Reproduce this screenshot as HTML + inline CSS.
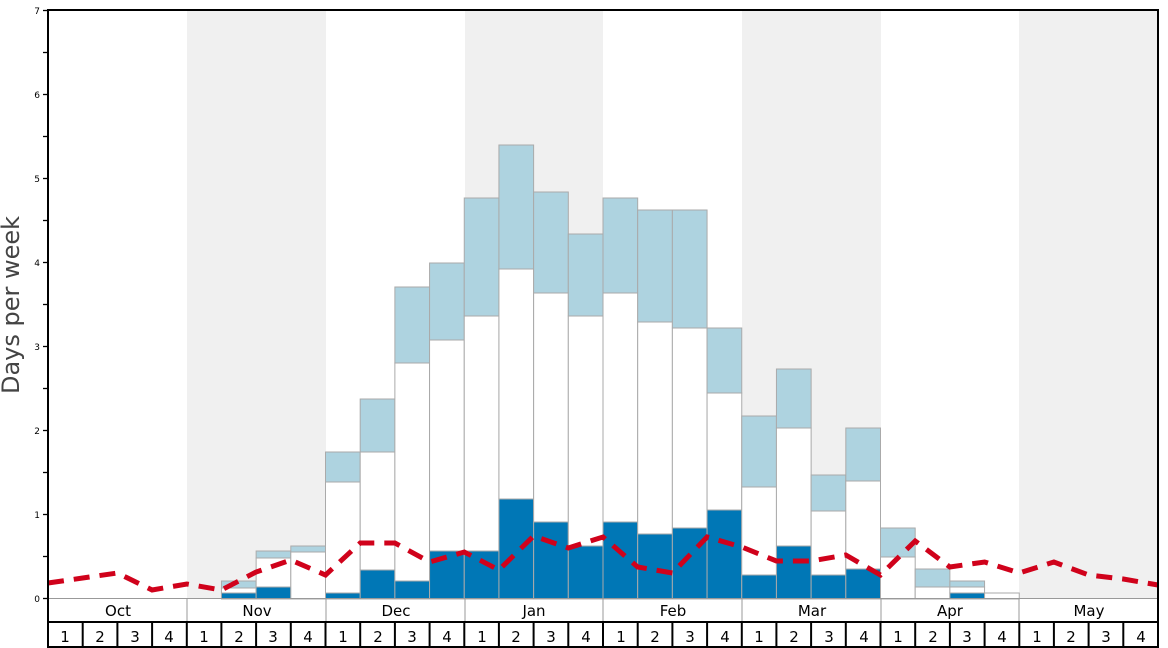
<!DOCTYPE html>
<html><head><meta charset="utf-8"><style>html,body{margin:0;padding:0;background:#fff}svg{display:block}text{font-family:"DejaVu Sans","Liberation Sans",sans-serif}</style></head><body>
<svg id="s" width="1168" height="648" xmlns="http://www.w3.org/2000/svg">
<rect x="187" y="10" width="139" height="589" fill="#f0f0f0"/>
<rect x="465" y="10" width="138" height="589" fill="#f0f0f0"/>
<rect x="742" y="10" width="139" height="589" fill="#f0f0f0"/>
<rect x="1019" y="10" width="139" height="589" fill="#f0f0f0"/>
<g id="bars"></g>
<polyline id="line" fill="none" stroke="#d0021b" stroke-width="5" stroke-dasharray="16,10"/>
<g stroke="#000" stroke-width="1.3">
<line x1="43" y1="10.5" x2="48" y2="10.5"/><line x1="43" y1="94.5" x2="48" y2="94.5"/><line x1="43" y1="178.5" x2="48" y2="178.5"/><line x1="43" y1="262.5" x2="48" y2="262.5"/><line x1="43" y1="346.5" x2="48" y2="346.5"/><line x1="43" y1="430.5" x2="48" y2="430.5"/><line x1="43" y1="514.5" x2="48" y2="514.5"/><line x1="43" y1="598.5" x2="48" y2="598.5"/>
<line x1="43" y1="52.5" x2="48" y2="52.5"/><line x1="43" y1="136.5" x2="48" y2="136.5"/><line x1="43" y1="220.5" x2="48" y2="220.5"/><line x1="43" y1="304.5" x2="48" y2="304.5"/><line x1="43" y1="388.5" x2="48" y2="388.5"/><line x1="43" y1="472.5" x2="48" y2="472.5"/><line x1="43" y1="556.5" x2="48" y2="556.5"/>
</g>
<g font-size="9" text-anchor="end" fill="#000">
<text x="40" y="14">7</text><text x="40" y="98">6</text><text x="40" y="182">5</text><text x="40" y="266">4</text><text x="40" y="350">3</text><text x="40" y="434">2</text><text x="40" y="518">1</text><text x="40" y="602">0</text>
</g>
<text transform="translate(19,305) rotate(-90)" font-size="24" fill="#444" text-anchor="middle">Days per week</text>
<line x1="48" y1="598.5" x2="1158" y2="598.5" stroke="#999" stroke-width="1"/>
<g stroke="#999" stroke-width="1">
<line x1="187" y1="599" x2="187" y2="622"/><line x1="326" y1="599" x2="326" y2="622"/><line x1="465" y1="599" x2="465" y2="622"/><line x1="603" y1="599" x2="603" y2="622"/><line x1="742" y1="599" x2="742" y2="622"/><line x1="881" y1="599" x2="881" y2="622"/><line x1="1019" y1="599" x2="1019" y2="622"/>
</g>
<g id="wk" stroke="#000" stroke-width="2"></g>
<rect x="48" y="10" width="1110" height="637" fill="none" stroke="#000" stroke-width="2"/>
<line x1="48" y1="622" x2="1158" y2="622" stroke="#000" stroke-width="2"/>
<g font-size="15" text-anchor="middle" fill="#000">
<text x="118" y="616">Oct</text><text x="257" y="616">Nov</text><text x="396" y="616">Dec</text><text x="534" y="616">Jan</text><text x="673" y="616">Feb</text><text x="812" y="616">Mar</text><text x="950" y="616">Apr</text><text x="1089" y="616">May</text>
</g>
<g font-size="15" text-anchor="middle" fill="#000">
<text x="65" y="642">1</text><text x="100" y="642">2</text><text x="135" y="642">3</text><text x="169" y="642">4</text>
<text x="204" y="642">1</text><text x="239" y="642">2</text><text x="273" y="642">3</text><text x="308" y="642">4</text>
<text x="343" y="642">1</text><text x="378" y="642">2</text><text x="412" y="642">3</text><text x="447" y="642">4</text>
<text x="482" y="642">1</text><text x="516" y="642">2</text><text x="551" y="642">3</text><text x="586" y="642">4</text>
<text x="621" y="642">1</text><text x="655" y="642">2</text><text x="690" y="642">3</text><text x="725" y="642">4</text>
<text x="759" y="642">1</text><text x="794" y="642">2</text><text x="829" y="642">3</text><text x="864" y="642">4</text>
<text x="898" y="642">1</text><text x="933" y="642">2</text><text x="967" y="642">3</text><text x="1002" y="642">4</text>
<text x="1037" y="642">1</text><text x="1071" y="642">2</text><text x="1106" y="642">3</text><text x="1141" y="642">4</text>
</g>
<script>
var W=1110/32,ns="http://www.w3.org/2000/svg";
function X(w){return 48+w*W}
var d=[[5,581,588,593],[6,551,558,587],[7,546,552,599],[8,452,482,593],[9,399,452,570],[10,287,363,581],[11,263,340,551],[12,198,316,551],[13,145,269,499],[14,192,293,522],[15,234,316,546],[16,198,293,522],[17,210,322,534],[18,210,328,528],[19,328,393,510],[20,416,487,575],[21,369,428,546],[22,475,511,575],[23,428,481,569],[24,528,557,599],[25,569,587,599],[26,581,587,593],[27,593,593,599]];
var g=document.getElementById('bars');
function R(x,y,w,h,f){if(h<=0)return;var r=document.createElementNS(ns,'rect');r.setAttribute('x',x);r.setAttribute('y',y);r.setAttribute('width',w);r.setAttribute('height',h);r.setAttribute('fill',f);r.setAttribute('stroke','#aaa');r.setAttribute('stroke-width','1');g.appendChild(r);}
d.forEach(function(b){var x=X(b[0]),w=W;R(x,b[1],w,b[2]-b[1],'#aed3e0');R(x,b[2],w,b[3]-b[2],'#fff');R(x,b[3],w,599-b[3],'#0077b6');});
var ly=[583,578,573,590,584,590,572,560,575,543,543,562,552,570,536,548,537,567,573,537,547,561,561,555,575,541,567,562,573,562,575,579,585];
document.getElementById('line').setAttribute('points',ly.map(function(y,i){return X(i).toFixed(1)+','+y}).join(' '));
var k=document.getElementById('wk');
for(var i=1;i<32;i++){var l=document.createElementNS(ns,'line');var x=X(i).toFixed(1);l.setAttribute('x1',x);l.setAttribute('x2',x);l.setAttribute('y1',622);l.setAttribute('y2',647);k.appendChild(l);}
</script>
</svg>
</body></html>
